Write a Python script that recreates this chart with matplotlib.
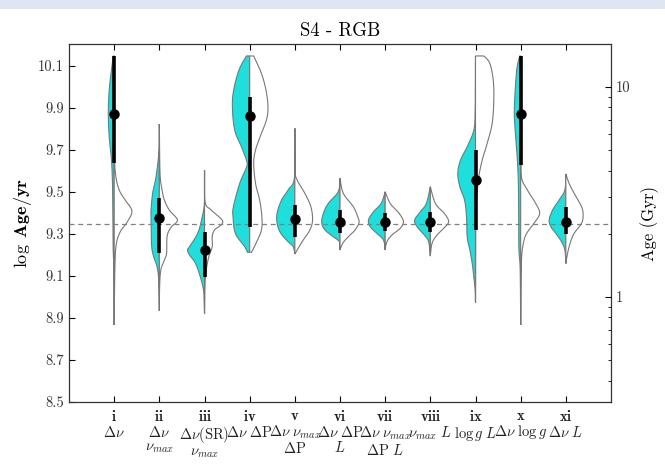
"""S4 - RGB: split violins of log age for the eleven observable combinations."""

import matplotlib

matplotlib.use("Agg")
import matplotlib.pyplot as plt
import numpy as np
from matplotlib.patches import Rectangle
from matplotlib.ticker import FixedLocator, FormatStrFormatter, NullFormatter

plt.rcParams["font.family"] = "serif"
plt.rcParams["font.serif"] = ["cmr10", "DejaVu Serif"]
plt.rcParams["mathtext.fontset"] = "cm"
plt.rcParams["axes.formatter.use_mathtext"] = True

NUMERALS = ["i", "ii", "iii", "iv", "v", "vi", "vii", "viii", "ix", "x", "xi"]
OBSERVABLES = [
    r"$\Delta\nu$",
    "$\\Delta\\nu$\n$\\nu_{max}$",
    "$\\Delta\\nu(\\mathrm{SR})$\n$\\nu_{max}$",
    r"$\Delta\nu\ \Delta\mathrm{P}$",
    "$\\Delta\\nu\\ \\nu_{max}$\n$\\Delta\\mathrm{P}$",
    "$\\Delta\\nu\\ \\Delta\\mathrm{P}$\n$L$",
    "$\\Delta\\nu\\ \\nu_{max}$\n$\\Delta\\mathrm{P}\\ L$",
    r"$\nu_{max}\ L$",
    r"$\log g\ L$",
    r"$\Delta\nu\ \log g$",
    r"$\Delta\nu\ L$",
]

REFERENCE_AGE = 9.35

# median and thick (credible) interval of each filled posterior
MEDIAN = [9.871, 9.375, 9.224, 9.863, 9.370, 9.359, 9.357, 9.357, 9.557, 9.870, 9.359]
LOWER = [9.640, 9.208, 9.097, 9.335, 9.287, 9.306, 9.316, 9.311, 9.319, 9.629, 9.300]
UPPER = [10.148, 9.470, 9.311, 9.954, 9.438, 9.414, 9.398, 9.406, 9.700, 10.148, 9.430]

# filled (left) half: log age levels and half widths
LEFT_AGE = [
    [10.148, 10.081, 9.986, 9.875, 9.763, 9.652, 9.541, 9.382, 9.224, 9.129, 8.867],
    [9.824, 9.700, 9.573, 9.495, 9.414, 9.382, 9.319, 9.240, 9.192, 9.144, 9.081, 8.935],
    [9.605, 9.454, 9.382, 9.305, 9.240, 9.224, 9.200, 9.160, 9.097, 9.033, 8.971, 8.922],
    [10.148, 10.081, 9.986, 9.906, 9.795, 9.716, 9.652, 9.621, 9.541, 9.430, 9.382, 9.303, 9.240, 9.213],
    [9.803, 9.573, 9.510, 9.462, 9.400, 9.351, 9.305, 9.263, 9.240, 9.205],
    [9.565, 9.502, 9.446, 9.398, 9.354, 9.319, 9.287, 9.263, 9.224],
    [9.501, 9.446, 9.406, 9.367, 9.335, 9.303, 9.271, 9.224],
    [9.525, 9.446, 9.406, 9.367, 9.335, 9.295, 9.263, 9.195],
    [10.148, 9.890, 9.795, 9.716, 9.652, 9.589, 9.525, 9.462, 9.382, 9.287, 9.224, 9.160, 9.097, 9.033, 8.974],
    [10.148, 10.081, 9.938, 9.859, 9.763, 9.652, 9.541, 9.382, 9.224, 9.129, 8.867],
    [9.586, 9.510, 9.462, 9.414, 9.367, 9.335, 9.303, 9.263, 9.224, 9.160],
]
LEFT_WIDTH = [
    [0.02, 0.06, 0.11, 0.13, 0.11, 0.06, 0.038, 0.029, 0.022, 0.007, 0.0],
    [0.0, 0.007, 0.073, 0.148, 0.184, 0.184, 0.18, 0.17, 0.126, 0.051, 0.015, 0.0],
    [0.0, 0.0, 0.051, 0.148, 0.332, 0.376, 0.332, 0.199, 0.095, 0.022, 0.007, 0.0],
    [0.073, 0.237, 0.354, 0.383, 0.332, 0.184, 0.073, 0.066, 0.221, 0.36, 0.369, 0.316, 0.111, 0.05],
    [0.0, 0.007, 0.148, 0.294, 0.392, 0.392, 0.316, 0.148, 0.038, 0.0],
    [0.0, 0.038, 0.259, 0.369, 0.405, 0.332, 0.148, 0.015, 0.0],
    [0.0, 0.088, 0.259, 0.369, 0.332, 0.184, 0.038, 0.0],
    [0.0, 0.088, 0.221, 0.347, 0.294, 0.133, 0.038, 0.0],
    [0.0, 0.007, 0.038, 0.184, 0.332, 0.392, 0.347, 0.243, 0.199, 0.184, 0.126, 0.073, 0.038, 0.007, 0.0],
    [0.022, 0.088, 0.133, 0.139, 0.111, 0.073, 0.051, 0.044, 0.038, 0.011, 0.0],
    [0.0, 0.022, 0.148, 0.294, 0.369, 0.332, 0.221, 0.095, 0.022, 0.0],
]

# open (right) half
RIGHT_AGE = [
    [10.148, 9.700, 9.581, 9.510, 9.462, 9.410, 9.357, 9.310, 9.248, 9.129, 8.867],
    [9.824, 9.590, 9.510, 9.462, 9.414, 9.367, 9.335, 9.305, 9.271, 9.208, 9.176, 9.129, 9.057, 8.935],
    [9.605, 9.454, 9.414, 9.359, 9.319, 9.287, 9.240, 9.192, 9.129, 9.067, 8.922],
    [10.148, 10.065, 9.986, 9.906, 9.843, 9.763, 9.700, 9.638, 9.541, 9.462, 9.382, 9.319, 9.256, 9.213],
    [9.803, 9.605, 9.557, 9.494, 9.430, 9.367, 9.319, 9.271, 9.232, 9.205],
    [9.565, 9.494, 9.430, 9.382, 9.354, 9.319, 9.287, 9.256, 9.224],
    [9.501, 9.446, 9.398, 9.359, 9.327, 9.295, 9.263, 9.224],
    [9.525, 9.446, 9.398, 9.359, 9.327, 9.295, 9.256, 9.195],
    [10.148, 10.113, 10.033, 9.938, 9.827, 9.732, 9.652, 9.573, 9.494, 9.382, 8.974],
    [10.148, 9.700, 9.573, 9.510, 9.446, 9.398, 9.351, 9.303, 9.256, 9.160, 8.867],
    [9.586, 9.541, 9.494, 9.430, 9.390, 9.351, 9.303, 9.256, 9.208, 9.160],
]
RIGHT_WIDTH = [
    [0.0, 0.007, 0.033, 0.111, 0.243, 0.392, 0.288, 0.133, 0.044, 0.015, 0.0],
    [0.0, 0.015, 0.06, 0.111, 0.22, 0.40, 0.27, 0.19, 0.165, 0.16, 0.111, 0.033, 0.007, 0.0],
    [0.0, 0.011, 0.148, 0.405, 0.221, 0.17, 0.17, 0.095, 0.038, 0.011, 0.0],
    [0.088, 0.259, 0.36, 0.405, 0.37, 0.23, 0.13, 0.088, 0.13, 0.22, 0.27, 0.26, 0.14, 0.04],
    [0.0, 0.007, 0.051, 0.221, 0.354, 0.392, 0.332, 0.184, 0.073, 0.0],
    [0.0, 0.073, 0.294, 0.392, 0.42, 0.332, 0.184, 0.06, 0.0],
    [0.0, 0.111, 0.31, 0.405, 0.332, 0.148, 0.038, 0.0],
    [0.0, 0.111, 0.31, 0.405, 0.294, 0.148, 0.038, 0.0],
    [0.184, 0.316, 0.392, 0.405, 0.369, 0.259, 0.148, 0.073, 0.038, 0.007, 0.0],
    [0.0, 0.007, 0.015, 0.148, 0.332, 0.42, 0.294, 0.133, 0.06, 0.015, 0.0],
    [0.0, 0.073, 0.184, 0.347, 0.383, 0.347, 0.184, 0.095, 0.038, 0.0],
]

CYAN = "#1fdfdc"
EDGE = "#777777"


def smooth_profile(ages, widths, steps=16):
    """Catmull-Rom curve through the read-off outline points."""
    pts = np.column_stack([ages, widths])
    pts = np.vstack([pts[0], pts, pts[-1]])
    t = np.linspace(0, 1, steps, endpoint=False)[:, None]
    segments = []
    for k in range(1, len(pts) - 2):
        p0, p1, p2, p3 = pts[k - 1], pts[k], pts[k + 1], pts[k + 2]
        segments.append(
            0.5 * (2 * p1 + (p2 - p0) * t + (2 * p0 - 5 * p1 + 4 * p2 - p3) * t**2
                   + (3 * p1 - p0 - 3 * p2 + p3) * t**3)
        )
    segments.append(pts[-2][None])
    curve = np.vstack(segments)
    return curve[:, 0], np.clip(curve[:, 1], 0, None)


def draw_half(ax, pos, ages, widths, side, face):
    y, w = smooth_profile(ages, widths)
    xs = np.concatenate([[pos], pos + side * w, [pos]])
    ys = np.concatenate([[y[0]], y, [y[-1]]])
    ax.fill(xs, ys, facecolor=face, edgecolor=EDGE, linewidth=0.8, zorder=2)


fig = plt.figure(figsize=(6.65, 4.66), dpi=100)
fig.patches.append(Rectangle((0, 1 - 9 / 466), 1, 9 / 466, transform=fig.transFigure,
                             facecolor="#dfe6f2", edgecolor="none"))
ax = fig.add_axes([0.1038, 0.1373, 0.815, 0.7683])

positions = np.arange(1, len(NUMERALS) + 1)
for i, pos in enumerate(positions):
    draw_half(ax, pos, LEFT_AGE[i], LEFT_WIDTH[i], -1, CYAN)
    draw_half(ax, pos, RIGHT_AGE[i], RIGHT_WIDTH[i], 1, "white")

ax.axhline(REFERENCE_AGE, color="#808080", linestyle=(0, (4, 3)), linewidth=0.9, zorder=3)
ax.vlines(positions, LOWER, UPPER, color="black", linewidth=2.6, zorder=4)
ax.plot(positions, MEDIAN, "o", color="black", markersize=6.5, zorder=5)

ax.set_xlim(0, 12)
ax.set_ylim(8.5, 10.205)
ax.set_yticks(np.arange(8.5, 10.15, 0.2))
ax.yaxis.set_major_formatter(FormatStrFormatter("%.1f"))
ax.set_xticks(positions)
ax.set_xticklabels(
    [f"$\\mathbf{{{n}}}$\n{obs}" for n, obs in zip(NUMERALS, OBSERVABLES)],
    fontsize=10.5, linespacing=1.05, color="#222222",
)
ax.tick_params(axis="x", which="both", direction="in", top=True, length=4, pad=5)
ax.tick_params(axis="y", direction="in", length=4, labelsize=10.5, labelcolor="#333333")
for spine in ax.spines.values():
    spine.set_color("#333333")
    spine.set_linewidth(0.9)

ax.set_ylabel(r"$\log\ \mathbf{Age/yr}$", fontsize=13, labelpad=3)
ax.set_title("S4 - RGB", fontsize=13.5, pad=6)

gyr = ax.twinx()
gyr.set_yscale("log")
gyr.set_ylim(10 ** (8.5 - 9), 10 ** (10.205 - 9))
gyr.yaxis.set_major_locator(FixedLocator([1, 10]))
gyr.yaxis.set_minor_locator(FixedLocator([0.4, 0.5, 0.6, 0.7, 0.8, 0.9, 2, 3, 4, 5, 6, 7, 8, 9]))
gyr.yaxis.set_major_formatter(FormatStrFormatter("%g"))
gyr.yaxis.set_minor_formatter(NullFormatter())
gyr.tick_params(axis="y", which="major", direction="in", length=4, labelsize=10.5,
                labelcolor="#333333")
gyr.tick_params(axis="y", which="minor", direction="in", length=2.5)
gyr.set_ylabel("Age (Gyr)", fontsize=12, labelpad=7)
for spine in gyr.spines.values():
    spine.set_visible(False)

fig.savefig("out.png", dpi=100)
plt.close(fig)
